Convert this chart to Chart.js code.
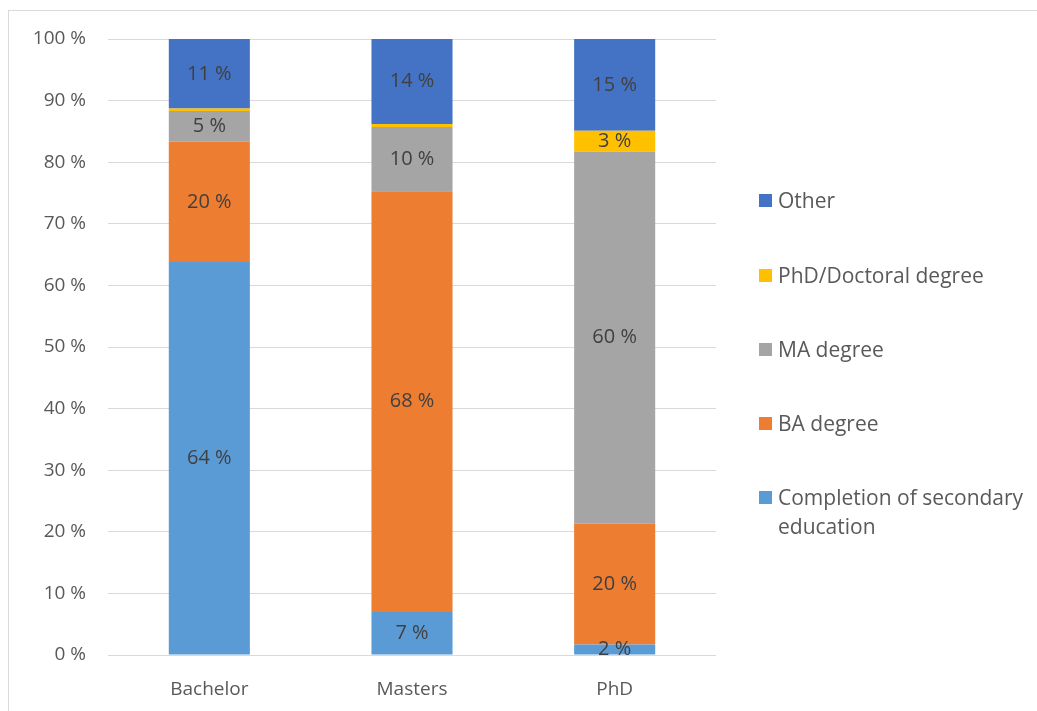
<!DOCTYPE html>
<html>
<head>
<meta charset="utf-8">
<script src="https://cdn.jsdelivr.net/npm/chart.js@4.4.0/dist/chart.umd.min.js"></script>
<style>
  html, body { margin: 0; padding: 0; background: #fff; }
  #wrap { position: relative; width: 1037px; height: 711px; overflow: hidden; }
  #frame { position: absolute; left: 8px; top: 10px; width: 1040px; height: 720px; border: 1px solid #d9d9d9; box-sizing: border-box; }
  #chart { position: absolute; left: 0; top: 0; }
  #legend { position: absolute; left: 759px; top: 0; font-family: "Open Sans", sans-serif; font-size: 21px; color: #595959; }
  .item { position: absolute; left: 0; width: 276px; }
  .sw { position: absolute; left: 0; width: 13px; height: 13px; }
  .txt { position: absolute; left: 19px; line-height: 29px; white-space: nowrap; }
</style>
</head>
<body>
<div id="wrap">
  <div id="frame"></div>
  <canvas id="chart" width="1037" height="711"></canvas>
  <div id="legend"></div>
</div>
<script>
// --- data ---
const categories = ['Bachelor', 'Masters', 'PhD'];
const seriesNames = ['Completion of secondary education', 'BA degree', 'MA degree', 'PhD/Doctoral degree', 'Other'];
const seriesColors = ['#5B9BD5', '#ED7D31', '#A5A5A5', '#FFC000', '#4472C4'];
const secondary = [63.8, 7.0, 1.7];
const baDegree = [19.5, 68.3, 19.6];
const maDegree = [5.0, 10.4, 60.4];
const phdDegree = [0.4, 0.5, 3.4];
const other = [11.3, 13.8, 14.9];
const seriesValues = [secondary, baDegree, maDegree, phdDegree, other];

// --- value labels inside the bars ---
const barLabels = {
    id: 'barLabels',
    afterDatasetsDraw(chart) {
        const ctx = chart.ctx;
        ctx.save();
        ctx.font = '20px "Open Sans", sans-serif';
        ctx.fillStyle = '#404040';
        ctx.textAlign = 'center';
        ctx.textBaseline = 'middle';
        chart.data.datasets.forEach((ds, i) => {
            const meta = chart.getDatasetMeta(i);
            meta.data.forEach((bar, j) => {
                const v = ds.data[j];
                if (v < 1) return; // thin slivers carry no label
                ctx.fillText(Math.round(v) + ' %', bar.x, (bar.y + bar.base) / 2);
            });
        });
        ctx.restore();
    }
};

const tickFont = { family: '"Open Sans", sans-serif', size: 19 };

new Chart(document.getElementById('chart'), {
    type: 'bar',
    data: {
        labels: categories,
        datasets: seriesNames.map((name, i) => ({
            label: name,
            data: seriesValues[i],
            backgroundColor: seriesColors[i],
            borderWidth: 0,
            categoryPercentage: 1,
            barPercentage: 0.4
        }))
    },
    options: {
        responsive: false,
        animation: false,
        layout: { padding: { left: 0, right: 321, top: 39, bottom: 0 } },
        plugins: { legend: { display: false }, tooltip: { enabled: false } },
        scales: {
            x: {
                stacked: true,
                grid: { display: false },
                border: { display: false },
                ticks: { color: '#595959', font: tickFont, padding: 15 },
                afterFit(scale) { scale.height = 56; }
            },
            y: {
                stacked: true,
                min: 0,
                max: 100,
                ticks: { stepSize: 10, color: '#595959', font: tickFont, padding: 22, callback: v => v + ' %' },
                grid: { color: '#d9d9d9', lineWidth: 1, drawTicks: false },
                border: { display: false },
                afterFit(scale) { scale.width = 108; }
            }
        }
    },
    plugins: [barLabels]
});

// --- legend (top to bottom: Other first) ---
const legendTops = [483, 409, 335, 261, 186];
const legend = document.getElementById('legend');
seriesNames.forEach((name, i) => {
    const item = document.createElement('div');
    item.className = 'item';
    item.style.top = legendTops[i] + 'px';
    const text = name === 'Completion of secondary education' ? 'Completion of secondary<br>education' : name;
    item.innerHTML = '<div class="sw" style="top:8px;background:' + seriesColors[i] + '"></div><div class="txt" style="top:0">' + text + '</div>';
    legend.appendChild(item);
});
</script>
</body>
</html>
